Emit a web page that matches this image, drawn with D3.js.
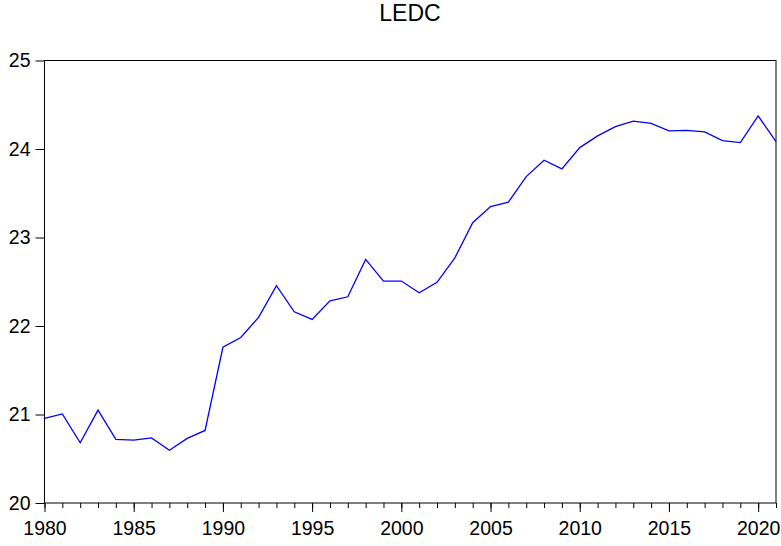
<!DOCTYPE html>
<html>
<head>
<meta charset="utf-8">
<script src="https://cdn.jsdelivr.net/npm/d3@7"></script>
<style>
  body { margin: 0; background: #fff; }
  text { font-family: Arial, "Liberation Sans", sans-serif; fill: #000; }
</style>
</head>
<body>
<div class="chart"></div>
<script>
// DATA
const YEARS = d3.range(1980, 2022);
const LEDC = [
  20.955, 21.007, 20.68, 21.05, 20.72, 20.71, 20.735, 20.596, 20.73, 20.82,
  21.76, 21.87, 22.097, 22.455, 22.16, 22.075, 22.285, 22.33, 22.753, 22.508,
  22.508, 22.376, 22.493, 22.77, 23.167, 23.35, 23.40, 23.688, 23.873, 23.775,
  24.016, 24.148, 24.253, 24.314, 24.29, 24.205, 24.21, 24.193, 24.095, 24.072,
  24.375, 24.084
];
const X_TICKS = [1980, 1985, 1990, 1995, 2000, 2005, 2010, 2015, 2020];
const Y_TICKS = [20, 21, 22, 23, 24, 25];
const TITLE = "LEDC";

// GLOBAL CONSTANTS
const FRAME_WIDTH = 781;
const FRAME_HEIGHT = 546;
const MARGINS = {left: 44.5, right: 5, top: 60.5, bottom: 43};
const GRAPH_WIDTH = FRAME_WIDTH - MARGINS.left - MARGINS.right;
const GRAPH_HEIGHT = FRAME_HEIGHT - MARGINS.top - MARGINS.bottom;

const FRAME = d3.select(".chart")
  .append("svg")
    .attr("width", FRAME_WIDTH)
    .attr("height", FRAME_HEIGHT);

const X_SCALE = d3.scaleLinear()
  .domain([1980, 2021])
  .range([0, GRAPH_WIDTH]);

const Y_SCALE = d3.scaleLinear()
  .domain([20, 25])
  .range([GRAPH_HEIGHT, 0]);

const G = FRAME.append("g")
  .attr("transform", "translate(" + MARGINS.left + "," + MARGINS.top + ")");

// minor x ticks, every year
G.append("g")
  .attr("transform", "translate(0," + GRAPH_HEIGHT + ")")
  .call(d3.axisBottom(X_SCALE).tickValues(YEARS).tickSize(5).tickFormat(""))
  .call(g => g.select(".domain").remove())
  .selectAll("line").attr("stroke", "#000");

// X AXIS
G.append("g")
  .attr("transform", "translate(0," + GRAPH_HEIGHT + ")")
  .call(d3.axisBottom(X_SCALE).tickValues(X_TICKS).tickSize(9).tickPadding(9).tickFormat(d3.format("d")))
  .call(g => g.select(".domain").remove())
  .call(g => g.selectAll("line").attr("stroke", "#000"))
  .selectAll("text")
    .attr("font-size", "19.5px");

// Y AXIS
G.append("g")
  .call(d3.axisLeft(Y_SCALE).tickValues(Y_TICKS).tickSize(9).tickPadding(5).tickFormat(d3.format("d")))
  .call(g => g.select(".domain").remove())
  .call(g => g.selectAll("line").attr("stroke", "#000"))
  .selectAll("text")
    .attr("font-size", "19.5px");

// plot frame
G.append("rect")
  .attr("x", 0)
  .attr("y", 0)
  .attr("width", GRAPH_WIDTH)
  .attr("height", GRAPH_HEIGHT)
  .attr("fill", "none")
  .attr("stroke", "#000")
  .attr("stroke-width", 1);

// line
const line = d3.line()
  .x((d, i) => X_SCALE(YEARS[i]))
  .y(d => Y_SCALE(d));

G.append("path")
  .datum(LEDC)
  .attr("d", line)
  .attr("fill", "none")
  .attr("stroke", "#0000ff")
  .attr("stroke-width", 1.3);

// title
FRAME.append("text")
  .attr("x", 410)
  .attr("y", 20.7)
  .attr("text-anchor", "middle")
  .attr("font-size", "23px")
  .text(TITLE);
</script>
</body>
</html>
